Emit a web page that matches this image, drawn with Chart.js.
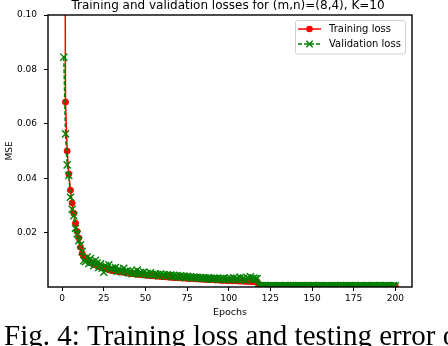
<!DOCTYPE html>
<html>
<head>
<meta charset="utf-8">
<script src="https://cdn.jsdelivr.net/npm/chart.js@4.4.0/dist/chart.umd.min.js"></script>
<style>
  body { margin: 0; background: #fff; }
  canvas { display: block; }
</style>
</head>
<body>
<canvas id="lossChart" width="448" height="346"></canvas>
<script>
// tick labels
var xTicks = [0, 25, 50, 75, 100, 125, 150, 175, 200];
var yTicks = [0.02, 0.04, 0.06, 0.08, 0.10];

// Training loss per epoch (epoch 1..200)
var trainLoss = [
  0.30, 0.068, 0.050, 0.0415, 0.0356, 0.0309, 0.0271, 0.0235, 0.0204, 0.0180,
  0.0146, 0.0123, 0.0112, 0.0104, 0.0100, 0.0095, 0.0090, 0.0088, 0.0084, 0.0081,
  0.0079, 0.0076, 0.0074, 0.0072, 0.0070, 0.0068, 0.0066, 0.0064, 0.0062, 0.0061,
  0.0060, 0.0059, 0.0058, 0.0057, 0.0056, 0.0055, 0.0054, 0.0053, 0.0052, 0.0051,
  0.0050, 0.0050, 0.0049, 0.0048, 0.0047, 0.0047, 0.0046, 0.0045, 0.0045, 0.0044,
  0.0043, 0.0043, 0.0042, 0.0042, 0.0041, 0.0041, 0.0040, 0.0040, 0.0039, 0.0039,
  0.0038, 0.0038, 0.0037, 0.0037, 0.0036, 0.0036, 0.0035, 0.0035, 0.0035, 0.0034,
  0.0034, 0.0033, 0.0033, 0.0033, 0.0032, 0.0032, 0.0031, 0.0031, 0.0031, 0.0030,
  0.0030, 0.0030, 0.0029, 0.0029, 0.0029, 0.0028, 0.0028, 0.0028, 0.0027, 0.0027,
  0.0027, 0.0026, 0.0026, 0.0026, 0.0025, 0.0025, 0.0025, 0.0025, 0.0024, 0.0024,
  0.0024, 0.0023, 0.0023, 0.0023, 0.0023, 0.0022, 0.0022, 0.0022, 0.0022, 0.0021,
  0.0021, 0.0021, 0.0021, 0.0020, 0.0020, 0.0020, 0.0020, 0.0004, 0.0004, 0.0003,
  0.0004, 0.0004, 0.0003, 0.0004, 0.0004, 0.0004, 0.0003, 0.0004, 0.0004, 0.0003,
  0.0004, 0.0004, 0.0004, 0.0003, 0.0004, 0.0003, 0.0004, 0.0004, 0.0004, 0.0003,
  0.0004, 0.0004, 0.0003, 0.0004, 0.0004, 0.0004, 0.0003, 0.0004, 0.0003, 0.0004,
  0.0004, 0.0004, 0.0003, 0.0004, 0.0004, 0.0003, 0.0004, 0.0004, 0.0004, 0.0003,
  0.0004, 0.0003, 0.0004, 0.0004, 0.0004, 0.0003, 0.0004, 0.0004, 0.0003, 0.0004,
  0.0004, 0.0004, 0.0003, 0.0004, 0.0004, 0.0003, 0.0004, 0.0004, 0.0004, 0.0003,
  0.0004, 0.0003, 0.0004, 0.0004, 0.0004, 0.0003, 0.0004, 0.0004, 0.0003, 0.0004,
  0.0004, 0.0004, 0.0003, 0.0004, 0.0004, 0.0003, 0.0004, 0.0004, 0.0004, 0.0003
];

// Validation loss per epoch (epoch 1..200)
var valLoss = [
  0.0845, 0.0563, 0.0449, 0.0410, 0.0330, 0.0286, 0.0262, 0.0216, 0.0195, 0.0170,
  0.0155, 0.0130, 0.0097, 0.0093, 0.0110, 0.0086, 0.0105, 0.0092, 0.0078, 0.0098,
  0.0088, 0.0072, 0.0085, 0.0069, 0.0054, 0.0079, 0.0071, 0.0082, 0.0066, 0.0070,
  0.0063, 0.0072, 0.0058, 0.0066, 0.0061, 0.0055, 0.0069, 0.0057, 0.0060, 0.0052,
  0.0058, 0.0049, 0.0056, 0.0051, 0.0062, 0.0047, 0.0053, 0.0049, 0.0055, 0.0046,
  0.0050, 0.0044, 0.0052, 0.0047, 0.0043, 0.0049, 0.0045, 0.0041, 0.0048, 0.0043,
  0.0046, 0.0040, 0.0045, 0.0041, 0.0044, 0.0038, 0.0043, 0.0039, 0.0042, 0.0036,
  0.0041, 0.0037, 0.0040, 0.0035, 0.0039, 0.0036, 0.0038, 0.0033, 0.0037, 0.0034,
  0.0036, 0.0032, 0.0035, 0.0031, 0.0034, 0.0033, 0.0030, 0.0034, 0.0031, 0.0029,
  0.0033, 0.0030, 0.0032, 0.0028, 0.0031, 0.0029, 0.0033, 0.0027, 0.0030, 0.0028,
  0.0032, 0.0027, 0.0034, 0.0029, 0.0031, 0.0026, 0.0036, 0.0028, 0.0033, 0.0025,
  0.0034, 0.0029, 0.0038, 0.0027, 0.0033, 0.0030, 0.0031, 0.0005, 0.0004, 0.0005,
  0.0004, 0.0005, 0.0004, 0.0004, 0.0005, 0.0004, 0.0005, 0.0004, 0.0004, 0.0005,
  0.0004, 0.0005, 0.0004, 0.0005, 0.0004, 0.0004, 0.0005, 0.0004, 0.0005, 0.0004,
  0.0004, 0.0005, 0.0004, 0.0005, 0.0004, 0.0004, 0.0005, 0.0004, 0.0005, 0.0004,
  0.0005, 0.0004, 0.0004, 0.0005, 0.0004, 0.0005, 0.0004, 0.0004, 0.0005, 0.0004,
  0.0004, 0.0005, 0.0004, 0.0005, 0.0004, 0.0004, 0.0005, 0.0004, 0.0005, 0.0004,
  0.0005, 0.0004, 0.0004, 0.0005, 0.0004, 0.0005, 0.0004, 0.0004, 0.0005, 0.0004,
  0.0004, 0.0005, 0.0004, 0.0005, 0.0004, 0.0004, 0.0005, 0.0004, 0.0005, 0.0004,
  0.0005, 0.0004, 0.0004, 0.0005, 0.0004, 0.0005, 0.0004, 0.0004, 0.0005, 0.0004
];

var titleText = 'Training and validation losses for (m,n)=(8,4), K=10';
var captionText = 'Fig. 4: Training loss and testing error of';

var FONT = 'DejaVu Sans';

function toPoints(arr) {
  return arr.map(function (v, i) { return { x: i + 1, y: v }; });
}

// matplotlib-like frame, title, legend and figure caption
var decorations = {
  id: 'decorations',
  afterDraw: function (chart) {
    var ctx = chart.ctx;
    var a = chart.chartArea;
    ctx.save();

    // box around axes
    ctx.strokeStyle = '#000';
    ctx.lineWidth = 1.4;
    ctx.strokeRect(a.left, a.top, a.right - a.left, a.bottom - a.top);

    // title
    ctx.fillStyle = '#000';
    ctx.font = '12px "' + FONT + '"';
    ctx.textAlign = 'center';
    ctx.textBaseline = 'alphabetic';
    ctx.fillText(titleText, 228, 9);

    // legend
    var lx = 295.5, ly = 20.5, lw = 110, lh = 33.5;
    ctx.fillStyle = '#fff';
    ctx.strokeStyle = '#d0d0d0';
    ctx.lineWidth = 1;
    ctx.beginPath();
    ctx.roundRect(lx, ly, lw, lh, 2);
    ctx.fill();
    ctx.stroke();

    ctx.lineWidth = 1.5;
    ctx.strokeStyle = 'red';
    ctx.beginPath();
    ctx.moveTo(298, 29);
    ctx.lineTo(321, 29);
    ctx.stroke();
    ctx.fillStyle = 'red';
    ctx.beginPath();
    ctx.arc(309.5, 29, 3.3, 0, Math.PI * 2);
    ctx.fill();

    ctx.strokeStyle = 'green';
    ctx.setLineDash([4, 2]);
    ctx.beginPath();
    ctx.moveTo(298, 44);
    ctx.lineTo(321, 44);
    ctx.stroke();
    ctx.setLineDash([]);
    ctx.lineWidth = 1.4;
    Chart.helpers.drawPoint(ctx, { pointStyle: 'crossRot', radius: 4.5, borderWidth: 1.4 }, 309.5, 44);

    ctx.fillStyle = '#000';
    ctx.font = '10px "' + FONT + '"';
    ctx.textAlign = 'left';
    ctx.textBaseline = 'middle';
    ctx.fillText('Training loss', 329, 29);
    ctx.fillText('Validation loss', 329, 44);

    // caption under the figure
    ctx.font = '29px "Liberation Serif"';
    ctx.textBaseline = 'alphabetic';
    ctx.fillText(captionText, 4, 345);

    ctx.restore();
  }
};

var ctx = document.getElementById('lossChart');

var lossChart = new Chart(ctx, {
  type: 'line',
  data: {
    datasets: [
      {
        label: 'Training loss',
        data: toPoints(trainLoss),
        borderColor: 'red',
        backgroundColor: 'red',
        borderWidth: 1.5,
        pointStyle: 'circle',
        pointRadius: 3,
        pointBorderWidth: 1,
        pointBackgroundColor: 'red',
        pointBorderColor: 'red',
        fill: false,
        order: 1
      },
      {
        label: 'Validation loss',
        data: toPoints(valLoss),
        borderColor: 'green',
        backgroundColor: 'green',
        borderWidth: 1.5,
        borderDash: [4, 2],
        pointStyle: 'crossRot',
        pointRadius: 5,
        pointBorderWidth: 1.4,
        pointBorderColor: 'green',
        fill: false,
        order: 0
      }
    ]
  },
  options: {
    responsive: false,
    animation: false,
    layout: { padding: { top: 15, right: 36, bottom: 24, left: 0 } },
    plugins: {
      legend: { display: false },
      title: { display: false },
      tooltip: { enabled: false }
    },
    scales: {
      x: {
        type: 'linear',
        min: -8.5,
        max: 210,
        afterBuildTicks: function (s) { s.ticks = xTicks.map(function (v) { return { value: v }; }); },
        afterFit: function (s) { s.height = 35; },
        border: { display: false },
        grid: { drawOnChartArea: false, drawTicks: true, tickLength: 4, color: '#000' },
        ticks: {
          color: '#000',
          font: { family: FONT, size: 9 },
          padding: 2,
          maxRotation: 0,
          autoSkip: false
        },
        title: {
          display: true,
          text: 'Epochs',
          color: '#000',
          font: { family: FONT, size: 9.5 },
          padding: { top: 0, bottom: 4 }
        }
      },
      y: {
        min: 0,
        max: 0.1,
        afterBuildTicks: function (s) { s.ticks = yTicks.map(function (v) { return { value: v }; }); },
        afterFit: function (s) { s.width = 48; },
        border: { display: false },
        grid: { drawOnChartArea: false, drawTicks: true, tickLength: 4, color: '#000' },
        ticks: {
          color: '#000',
          font: { family: FONT, size: 9 },
          padding: 7,
          callback: function (v) { return v.toFixed(2); }
        },
        title: {
          display: true,
          text: 'MSE',
          color: '#000',
          font: { family: FONT, size: 9 },
          padding: { top: 4, bottom: 0 }
        }
      }
    }
  },
  plugins: [decorations]
});
</script>
</body>
</html>
